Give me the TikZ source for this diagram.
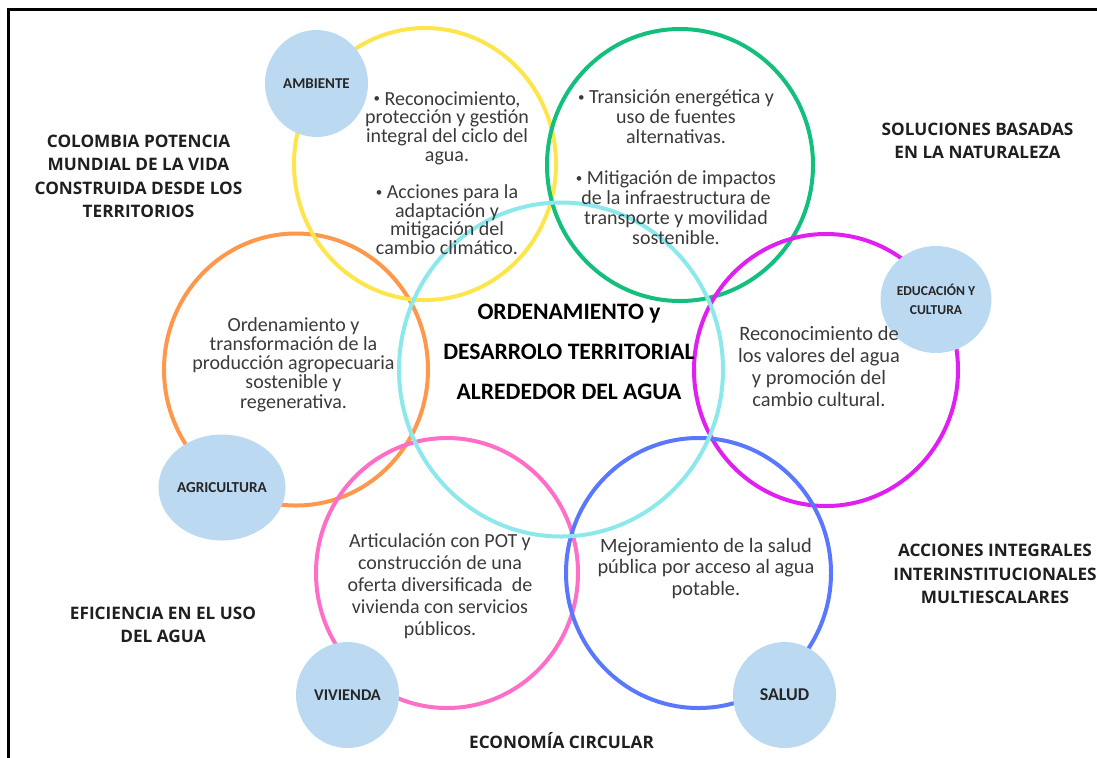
\documentclass[tikz,border=0pt]{standalone}
\usepackage{fontspec}
\setmainfont{Carlito}
\newfontfamily\sidefont{Open Sans}
\usetikzlibrary{shapes.geometric}

\definecolor{ringyellow}{RGB}{255,229,76}
\definecolor{ringgreen}{RGB}{20,190,124}
\definecolor{ringcyan}{RGB}{140,232,234}
\definecolor{ringorange}{RGB}{255,152,76}
\definecolor{ringmagenta}{RGB}{224,32,240}
\definecolor{ringpink}{RGB}{255,110,199}
\definecolor{ringblue}{RGB}{90,120,255}
\definecolor{tagblue}{RGB}{187,218,242}
\definecolor{bodygray}{RGB}{58,58,58}

\def\pnt{{\fontsize{6.5}{6.5}\selectfont\raisebox{1.2pt}{•}}\ }

\tikzset{
	ring/.style={line width=2pt},
	tag/.style={ellipse, fill=tagblue, inner sep=0pt, align=center, text=black!85},
	body/.style={align=center, text=bodygray},
	side/.style={align=center, text=black!88, font=\sidefont\bfseries\fontsize{8.6}{11.75}\selectfont},
}

\begin{document}
\begin{tikzpicture}[x=0.5pt, y=-0.5pt]
		%%%%% START %%%%%
		\useasboundingbox (0, 0) rectangle (1097, 757);
		
		\draw[line width=1.5pt] (1110, 9) -- (8, 9) -- (8, 770);
		
		%%%%% RINGS %%%%%
		\draw[ring, color=ringorange] (296, 369.5) ellipse [x radius=132, y radius=136];
		\draw[ring, color=ringyellow] (425, 164) ellipse [x radius=131, y radius=136];
		\draw[ring, color=ringgreen] (680, 165) ellipse [x radius=133, y radius=136];
		\draw[ring, color=ringmagenta] (826, 370) ellipse [x radius=132, y radius=136];
		\draw[ring, color=ringpink] (447, 573) ellipse [x radius=131, y radius=135];
		\draw[ring, color=ringblue] (698.5, 573) ellipse [x radius=132.5, y radius=135];
		\draw[ring, color=ringcyan] (561, 369.5) ellipse [x radius=162, y radius=167];
		
		%%%%% TAGS %%%%%
		\node[tag, minimum width=51.5pt, minimum height=53.5pt, font=\bfseries\fontsize{7.5}{9}\selectfont] (ambiente) at (316.5, 83.5) {AMBIENTE};
		\node[tag, minimum width=52pt, minimum height=53.5pt, font=\bfseries\fontsize{6.8}{9.5}\selectfont] (educacion) at (936, 299.5) {EDUCACIÓN Y\\CULTURA};
		\node[tag, minimum width=58.5pt, minimum height=53pt, font=\bfseries\fontsize{7.6}{9}\selectfont] (agricultura) at (222, 487.5) {AGRICULTURA};
		\node[tag, minimum width=51.5pt, minimum height=53pt, font=\bfseries\fontsize{8.2}{9}\selectfont] (vivienda) at (347.5, 695) {VIVIENDA};
		\node[tag, minimum width=51.5pt, minimum height=53pt, font=\bfseries\fontsize{9}{9}\selectfont] (salud) at (784.5, 695) {SALUD};
		
		%%%%% TEXTS %%%%%
		\node[body, font=\fontsize{10}{9.35}\selectfont] (ambtext) at (447, 173) {\pnt Reconocimiento,\\protección y gestión\\integral del ciclo del\\agua.\\[9.35pt]\pnt Acciones para la\\adaptación y\\mitigación del\\cambio climático.};
		\node[body, font=\fontsize{10}{10}\selectfont] (transtext) at (676, 167.5) {\pnt Transición energética y\\uso de fuentes\\alternativas.\\[10.5pt]\pnt Mitigación de impactos\\de la infraestructura de\\transporte y movilidad\\sostenible.};
		\node[body, font=\fontsize{10}{9.6}\selectfont] (agrotext) at (293.5, 364.5) {Ordenamiento y\\transformación de la\\producción agropecuaria\\sostenible y\\regenerativa.};
		\node[body, font=\fontsize{10.2}{11}\selectfont] (edutext) at (819, 366) {Reconocimiento de\\los valores del agua\\y promoción del\\cambio cultural.};
		\node[body, font=\fontsize{10}{11}\selectfont] (vivtext) at (440, 586) {Articulación con POT y\\construcción de una\\oferta diversificada~ de\\vivienda con servicios\\públicos.};
		\node[body, font=\fontsize{10.2}{10.8}\selectfont] (saltext) at (706, 568.5) {Mejoramiento de la salud\\pública por acceso al agua\\potable.};
		
		\node[align=center, font=\bfseries\fontsize{11.8}{20}\selectfont] (titulo) at (569, 352) {ORDENAMIENTO y\\DESARROLO TERRITORIAL\\ALREDEDOR DEL AGUA};
		
		%%%%% SIDE LABELS %%%%%
		\node[side] (colombia) at (138.5, 176.5) {COLOMBIA POTENCIA\\MUNDIAL DE LA VIDA\\CONSTRUIDA DESDE LOS\\TERRITORIOS};
		\node[side] (soluciones) at (977.5, 141) {SOLUCIONES BASADAS\\EN LA NATURALEZA};
		\node[side] (acciones) at (995, 574) {ACCIONES INTEGRALES\\INTERINSTITUCIONALES\\MULTIESCALARES};
		\node[side] (eficiencia) at (163, 625) {EFICIENCIA EN EL USO\\DEL AGUA};
		\node[side] (economia) at (561.5, 741) {ECONOMÍA CIRCULAR};
		
		%%%%% END %%%%%
	\end{tikzpicture}
\end{document}
